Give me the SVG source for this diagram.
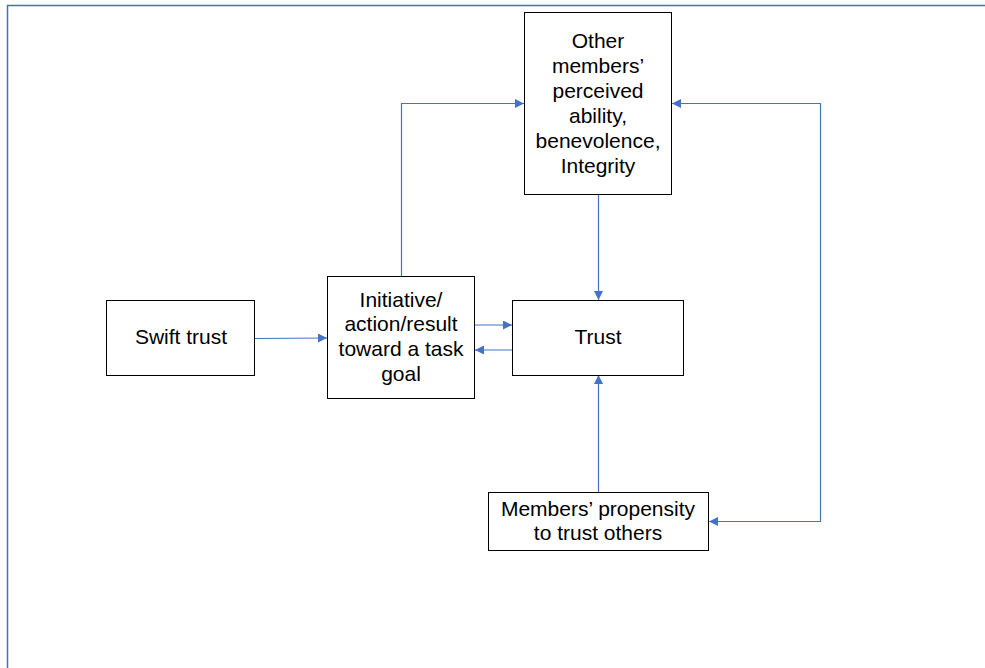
<svg xmlns="http://www.w3.org/2000/svg" width="985" height="668" viewBox="0 0 985 668">
  <style>
    .box { fill: #ffffff; stroke: #000000; stroke-width: 1; }
    .lbl { font-family: "Liberation Sans", Arial, sans-serif; font-size: 21px; fill: #000000; text-anchor: middle; }
    .edge { fill: none; stroke: #4472c4; stroke-width: 1.2; }
    .frame { fill: none; stroke: #4a6fb5; stroke-width: 1.5; }
  </style>
  <defs>
    <marker id="arrow" viewBox="0 0 10 10" refX="10" refY="5" markerWidth="10" markerHeight="9" markerUnits="userSpaceOnUse" orient="auto-start-reverse">
      <path d="M0,0 L10,5 L0,10 z" fill="#4472c4"/>
    </marker>
  </defs>
  <rect width="985" height="668" fill="#ffffff"/>

  <!-- page frame -->
  <path class="frame" d="M7.5,668 L7.5,5.5 L985,5.5"/>

  <g id="connectors">
    <!-- Swift trust -> Initiative -->
    <path class="edge" d="M255,338.5 L327,338" marker-end="url(#arrow)"/>
    <!-- Initiative -> Other members -->
    <path class="edge" d="M401.5,276 L401.5,103.5 L524,103.5" marker-end="url(#arrow)"/>
    <!-- Other members -> Trust -->
    <path class="edge" d="M598.5,194 L598.5,300" marker-end="url(#arrow)"/>
    <!-- Initiative -> Trust -->
    <path class="edge" d="M475,325 L512,325" marker-end="url(#arrow)"/>
    <!-- Trust -> Initiative -->
    <path class="edge" d="M512,350 L475,350" marker-end="url(#arrow)"/>
    <!-- Propensity -> Trust -->
    <path class="edge" d="M598.5,492 L598.5,375" marker-end="url(#arrow)"/>
    <!-- Propensity <-> Other members -->
    <path class="edge" d="M672,103.5 L820.5,103.5 L820.5,521.5 L709,521.5" marker-start="url(#arrow)" marker-end="url(#arrow)"/>
  </g>

  <g id="other-members">
    <rect class="box" x="524.5" y="12.5" width="147" height="182"/>
    <text class="lbl" x="598" y="48">Other</text>
    <text class="lbl" x="598" y="73">members’</text>
    <text class="lbl" x="598" y="98">perceived</text>
    <text class="lbl" x="598" y="123">ability,</text>
    <text class="lbl" x="598" y="148">benevolence,</text>
    <text class="lbl" x="598" y="173">Integrity</text>
  </g>

  <g id="swift-trust">
    <rect class="box" x="106.5" y="300.5" width="148" height="75"/>
    <text class="lbl" x="181" y="344">Swift trust</text>
  </g>

  <g id="initiative">
    <rect class="box" x="327.5" y="276.5" width="147" height="122"/>
    <text class="lbl" x="401" y="307">Initiative/</text>
    <text class="lbl" x="401" y="331">action/result</text>
    <text class="lbl" x="401" y="356">toward a task</text>
    <text class="lbl" x="401" y="381">goal</text>
  </g>

  <g id="trust">
    <rect class="box" x="512.5" y="300.5" width="171" height="75"/>
    <text class="lbl" x="598" y="344">Trust</text>
  </g>

  <g id="propensity">
    <rect class="box" x="488.5" y="492.5" width="220" height="58"/>
    <text class="lbl" x="598" y="516">Members’ propensity</text>
    <text class="lbl" x="598" y="540">to trust others</text>
  </g>
</svg>
